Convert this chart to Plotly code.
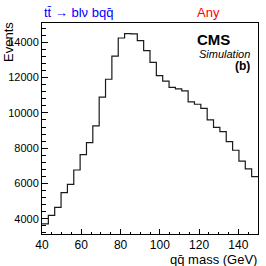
import numpy as np
import plotly.graph_objects as go

# ---- data ----
mass_lo = 40.0
mass_hi = 150.0
n_bins = 34
events = [3700, 4190, 4645, 5475, 5950, 6760, 7630, 8310, 9260, 10890,
          11910, 13220, 14250, 14500, 14480, 14100, 13530, 12870, 12110, 11800,
          11450, 11360, 11250, 10620, 10490, 10260, 9600, 9180, 8940, 8370,
          7880, 7260, 6830, 6390]
x_ticks = [40, 60, 80, 100, 120, 140]
x_tick_labels = ["40", "60", "80", "100", "120", "140"]
y_ticks = [4000, 6000, 8000, 10000, 12000, 14000]
y_tick_labels = ["4000", "6000", "8000", "10000", "12000", "14000"]
y_range = [3130, 15100]

edges = np.linspace(mass_lo, mass_hi, n_bins + 1)
xs = list(edges)
ys = list(events) + [events[-1]]

W, H = 266, 266
L, R, T, B = 42, 258, 23, 234


def px(x):
    return (x - L) / (R - L)


def py(y):
    return (B - y) / (B - T)


fig = go.Figure()
fig.add_trace(go.Scatter(x=xs, y=ys, mode="lines", line_shape="hv",
                         line=dict(color="#1a1a1a", width=1.2),
                         showlegend=False, hoverinfo="skip"))

font = "Liberation Sans, Arial, Helvetica, sans-serif"

fig.update_layout(
    width=W, height=H,
    margin=dict(l=L, r=W - R, t=T, b=H - B, pad=0),
    paper_bgcolor="white", plot_bgcolor="white",
    font=dict(family=font, color="black", size=11),
    hovermode=False,
    xaxis=dict(range=[mass_lo, mass_hi], tickvals=x_ticks, ticktext=x_tick_labels,
               ticks="inside", ticklen=5, tickwidth=1, tickcolor="black",
               minor=dict(dtick=5, ticks="inside", ticklen=2.5, tickcolor="black"),
               showline=True, linecolor="black", linewidth=1, mirror=True,
               showgrid=False, zeroline=False, fixedrange=True,
               tickfont=dict(size=12)),
    yaxis=dict(range=y_range, tickvals=y_ticks, ticktext=y_tick_labels,
               ticks="inside", ticklen=6, tickwidth=1, tickcolor="black",
               minor=dict(dtick=400, tick0=0, ticks="inside", ticklen=3.5, tickcolor="black"),
               showline=True, linecolor="black", linewidth=1, mirror=True,
               showgrid=False, zeroline=False, fixedrange=True,
               tickfont=dict(size=11)),
)

ann = []
ann.append(dict(text="qq\u0304 mass (GeV)", x=px(258), y=py(259), xref="paper", yref="paper",
                xanchor="right", yanchor="middle", showarrow=False, borderpad=0,
                font=dict(size=13, family=font)))
ann.append(dict(text="Events", x=px(8), y=py(42), xref="paper", yref="paper",
                xanchor="center", yanchor="middle", textangle=-90, showarrow=False, borderpad=0,
                font=dict(size=13, family=font)))
ann.append(dict(text="tt\u0304 \u2192 bl\u03bd bqq\u0304", x=px(78.7), y=py(12.5), xref="paper", yref="paper",
                xanchor="center", yanchor="middle", showarrow=False, borderpad=0,
                font=dict(size=13, family=font, color="#0000ff")))
ann.append(dict(text="Any", x=px(208.5), y=py(12.5), xref="paper", yref="paper",
                xanchor="center", yanchor="middle", showarrow=False, borderpad=0,
                font=dict(size=13, family=font, color="#ff0000")))
ann.append(dict(text="<b>CMS</b>", x=px(196), y=py(39.5), xref="paper", yref="paper",
                xanchor="left", yanchor="middle", showarrow=False, borderpad=0,
                font=dict(size=15, family=font)))
ann.append(dict(text="<i>Simulation</i>", x=px(251), y=py(53.5), xref="paper", yref="paper",
                xanchor="right", yanchor="middle", showarrow=False, borderpad=0,
                font=dict(size=11, family=font)))
ann.append(dict(text="<b>(b)</b>", x=px(251), y=py(65.5), xref="paper", yref="paper",
                xanchor="right", yanchor="middle", showarrow=False, borderpad=0,
                font=dict(size=12, family=font)))
fig.update_layout(annotations=ann)

fig.write_html("out.html", config={"displayModeBar": False, "staticPlot": True},
               post_script="document.body.style.margin='0';document.body.style.overflow='hidden';")
